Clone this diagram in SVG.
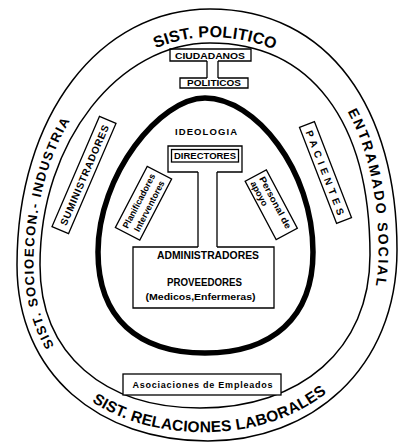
<svg xmlns="http://www.w3.org/2000/svg" width="398" height="443" viewBox="0 0 398 443">
<defs>
<style>
.line{fill:none;stroke:#000;stroke-width:1.5}
.core{fill:none;stroke:#000;stroke-width:5.5}
.box{fill:#fff;stroke:#000;stroke-width:1.3}
.frame{fill:none;stroke:#000;stroke-width:1.3}
.t{font-family:"Liberation Sans",Arial,sans-serif;font-weight:bold;fill:#000}
.c{text-anchor:middle;dominant-baseline:central}
.s{text-anchor:start}
</style>
<!-- baselines for the lettering that runs round the outer band -->
<path id="p-top" d="M32,265 C32,131.25 113,31.1 210,31.1 C317,31.1 379.45,116.5 379.45,253.25"/>
<path id="p-left" d="M204,424.5 C102.5,424.5 28.5,365 28.5,265 C28.5,127.5 110,26 210,26"/>
<path id="p-right" d="M210,26 C320,26 383.5,115 383.5,252.5 C383.5,360 305,424.5 204,424.5"/>
<path id="p-bottom" d="M27.35,265 C27.35,366 102.25,426.15 204.4,426.15 C305.5,426.15 384.85,361 384.85,252.25"/>
</defs>
<rect width="398" height="443" fill="#fff"/>

<!-- outer band: the surrounding systems -->
<g id="entorno">
<path class="line" d="M210,9 C330,9 397,110 397,250 C397,370 310,441 208,441 C100,441 17,375 17,265 C17,115 100,9 210,9 Z"/>
<path class="line" d="M210,43 C310,43 370,120 370,255 C370,350 300,408 200,408 C105,408 40,355 40,265 C40,140 120,43 210,43 Z"/>
<text class="t c" font-size="16"><textPath href="#p-top" startOffset="51.6%" textLength="126" lengthAdjust="spacing">SIST. POLITICO</textPath></text>
<text class="t c" font-size="13"><textPath href="#p-left" startOffset="50%" textLength="240" lengthAdjust="spacing">SIST. SOCIOECON.- INDUSTRIA</textPath></text>
<text class="t c" font-size="14"><textPath href="#p-right" startOffset="44%" textLength="182" lengthAdjust="spacing">ENTRAMADO SOCIAL</textPath></text>
<text class="t c" font-size="15.5"><textPath href="#p-bottom" startOffset="50%" textLength="242" lengthAdjust="spacing">SIST. RELACIONES LABORALES</textPath></text>
</g>

<!-- organisation boundary -->
<g id="organizacion">
<path class="core" d="M205,98 C255,98 313,170 313,252 C313,318 272,353 205,353 C138,353 98,318 98,252 C98,175 160,98 205,98 Z"/>
</g>

<g id="ciudadanos">
<path class="frame" d="M207,61 H170 V49 H251 V61 H218"/>
<text class="t c" x="210" y="55.5" font-size="8.5" textLength="70" lengthAdjust="spacingAndGlyphs">CIUDADANOS</text>
</g>

<g id="politicos">
<path class="frame" d="M207,78 H180 V88 H248 V78 H218"/>
<text class="t c" x="214" y="83" font-size="8.5" textLength="54" lengthAdjust="spacingAndGlyphs">POLITICOS</text>
</g>

<g id="ideologia">
<text class="t c" x="206" y="131" font-size="9.5" textLength="62" lengthAdjust="spacing">IDEOLOGIA</text>
</g>

<g id="directores">
<path class="frame" d="M198,172 H168 V146 H242 V172 H217"/>
<rect class="frame" x="171.5" y="149.5" width="67" height="12.5"/>
<text class="t c" x="205" y="156" font-size="9" textLength="62" lengthAdjust="spacingAndGlyphs">DIRECTORES</text>
</g>

<g id="administradores">
<path class="frame" d="M198,247 H133 V308 H274 V247 H217"/>
<text class="t c" x="208" y="255.5" font-size="10" textLength="102" lengthAdjust="spacingAndGlyphs">ADMINISTRADORES</text>
<text class="t c" x="204.5" y="282" font-size="10" textLength="75" lengthAdjust="spacingAndGlyphs">PROVEEDORES</text>
<text class="t c" x="200.5" y="297" font-size="9" textLength="110" lengthAdjust="spacingAndGlyphs">(Medicos,Enfermeras)</text>
</g>

<g id="planificadores" transform="translate(143.5,203.25) rotate(-62.5)">
<rect class="box" x="-34.5" y="-13.75" width="69" height="27.5"/>
<text class="t" text-anchor="middle" x="0" y="-2" font-size="9" textLength="60" lengthAdjust="spacingAndGlyphs">Planificadores</text>
<text class="t" text-anchor="middle" x="0" y="9.5" font-size="9" textLength="56" lengthAdjust="spacingAndGlyphs">Interventores</text>
</g>

<g id="personal-apoyo" transform="translate(271.25,204.75) rotate(62)">
<rect class="box" x="-33" y="-12" width="66" height="24"/>
<text class="t s" x="-29" y="-1.5" font-size="9" textLength="58" lengthAdjust="spacingAndGlyphs">Personal de</text>
<text class="t s" x="-29" y="8.5" font-size="9" textLength="27" lengthAdjust="spacingAndGlyphs">apoyo</text>
</g>

<g id="suministradores" transform="translate(84,175) rotate(-66.7)">
<rect class="box" x="-60" y="-9" width="120" height="18"/>
<text class="t c" x="0" y="0.5" font-size="10" textLength="108" lengthAdjust="spacing">SUMINISTRADORES</text>
</g>

<g id="pacientes" transform="translate(325.5,172.5) rotate(68.9)">
<rect class="box" x="-51.5" y="-8" width="103" height="16"/>
<text class="t c" x="0" y="0.5" font-size="10" textLength="90" lengthAdjust="spacing">PACIENTES</text>
</g>

<g id="asociaciones">
<rect class="box" x="123" y="374" width="158" height="21"/>
<text class="t c" x="202.5" y="384.5" font-size="9" textLength="140" lengthAdjust="spacing">Asociaciones de Empleados</text>
</g>

<!-- stems joining the stacked boxes -->
<g id="connectors" class="frame">
<path d="M207,61 V78 M218,61 V78"/>
<path d="M198,172 V247 M217,172 V247"/>
</g>
</svg>
